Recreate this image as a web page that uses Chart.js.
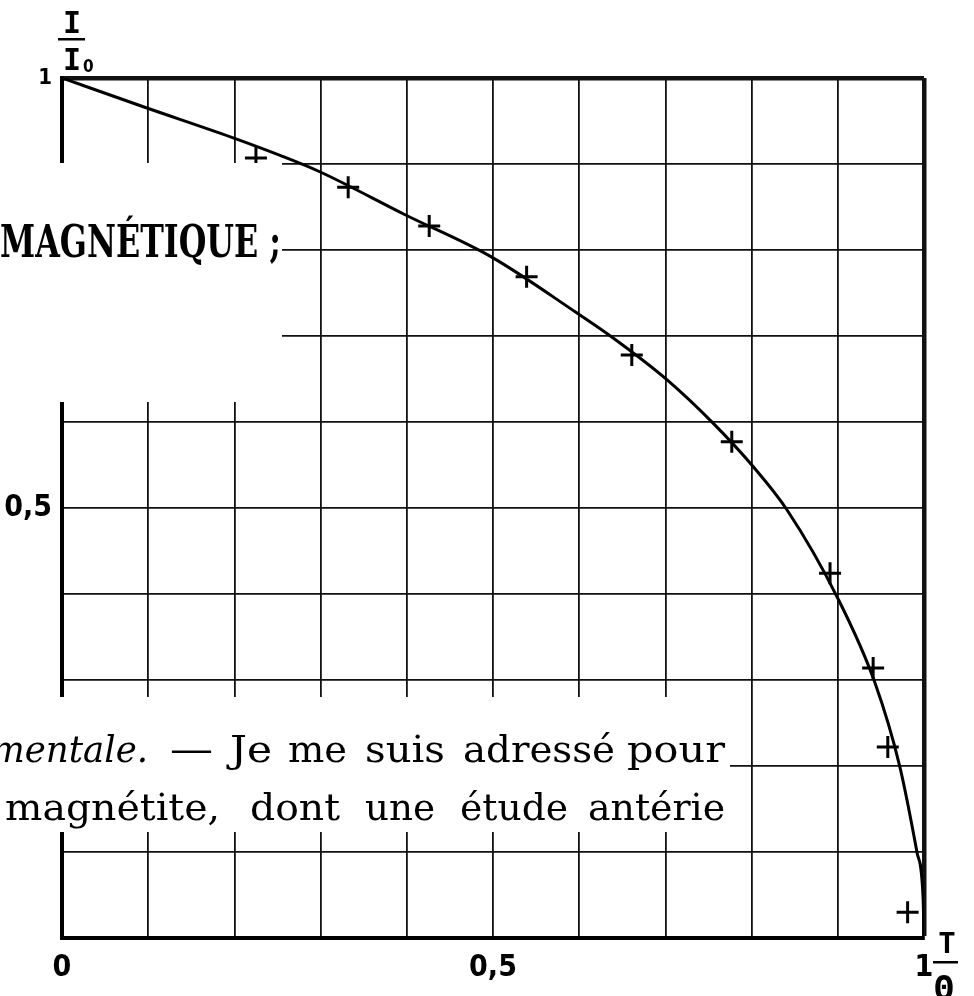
<!DOCTYPE html>
<html lang="fr">
<head>
<meta charset="utf-8">
<title>I/I0 en fonction de T/Θ</title>
<script src="https://cdn.jsdelivr.net/npm/chart.js@4.4.1/dist/chart.umd.min.js"></script>
<style>
  html, body { margin: 0; padding: 0; background: #fff; }
  canvas { display: block; }
</style>
</head>
<body>
<canvas id="courbe" width="974" height="996"></canvas>
<script>
// courbe théorique I/I0 = f(T/Θ)
const curveT = [0, 0.096, 0.197, 0.253, 0.299, 0.398, 0.498, 0.597, 0.639, 0.702, 0.755, 0.802, 0.841, 0.900, 0.943, 0.972, 0.992, 0.999, 1];
const curveI = [1, 0.966, 0.931, 0.910, 0.891, 0.841, 0.792, 0.727, 0.698, 0.649, 0.599, 0.548, 0.498, 0.395, 0.297, 0.199, 0.099, 0.045, 0];

// points mesurés (croix)
const measT = [0.225, 0.332, 0.426, 0.539, 0.661, 0.777, 0.891, 0.941, 0.958, 0.981];
const measI = [0.907, 0.873, 0.828, 0.769, 0.678, 0.577, 0.424, 0.314, 0.222, 0.030];

// graduations
const tickValues = [0, 0.5, 1];
const xTickLabels = ['0', '0,5', '1'];
const yTickLabels = ['', '0,5', '1'];

const narrow = "'Liberation Sans Narrow', 'DejaVu Sans Condensed', sans-serif";

// '' garde la ligne de grille sans étiquette
function labelFor(labels) {
  return (v) => {
    const i = tickValues.findIndex(t => Math.abs(t - v) < 1e-6);
    return i < 0 ? '' : labels[i];
  };
}

function gridWidth(ctx) {
  const v = ctx.tick ? ctx.tick.value : 0;
  return Math.abs(v - 1) < 1e-6 ? 4.5 : 1.8;
}

// texte ajusté horizontalement à une largeur donnée
function fitText(ctx, text, x, y, w, font) {
  ctx.font = font;
  const m = ctx.measureText(text).width;
  ctx.save();
  ctx.translate(x, y);
  ctx.scale(w / m, 1);
  ctx.fillText(text, 0, 0);
  ctx.restore();
}

// bandes de texte de la page et fractions des axes
const pageText = {
  id: 'pageText',
  afterDatasetsDraw(chart) {
    const ctx = chart.ctx;
    ctx.save();
    ctx.fillStyle = '#fff';
    ctx.fillRect(0, 163, 282, 239);
    ctx.fillRect(0, 697, 730, 135);

    ctx.fillStyle = '#000';
    ctx.textAlign = 'left';
    ctx.textBaseline = 'alphabetic';
    fitText(ctx, 'MAGNÉTIQUE ;', 0, 257, 281, 'bold 44px "DejaVu Serif"');

    const serif = '38px "DejaVu Serif"';
    const line1 = [['mentale.', -9, 148, 'italic ' + serif], ['—', 170, 213], ['Je', 230, 272], ['me', 288, 347],
                   ['suis', 365, 445], ['adressé', 463, 615], ['pour', 627, 725]];
    const line2 = [['magnétite,', 5, 220], ['dont', 250, 340], ['une', 365, 435], ['étude', 460, 568], ['antérie', 588, 725]];
    line1.forEach(([t, a, b, f]) => fitText(ctx, t, a, 762, b - a, f || serif));
    line2.forEach(([t, a, b, f]) => fitText(ctx, t, a, 820, b - a, f || serif));

    // I / I0
    ctx.textAlign = 'center';
    ctx.font = 'bold 30px "DejaVu Sans Mono"';
    ctx.fillText('I', 72, 33);
    ctx.fillText('I', 72, 70);
    ctx.font = 'bold 17px ' + narrow;
    ctx.textAlign = 'left';
    ctx.fillText('0', 83, 72);
    ctx.fillRect(58, 38, 27, 2.5);

    // T / Θ
    ctx.textAlign = 'center';
    ctx.font = 'bold 29px "DejaVu Sans Mono"';
    ctx.fillText('T', 947, 953);
    ctx.fillRect(933, 961, 25, 2.5);
    ctx.font = 'bold 34px "DejaVu Sans Mono"';
    ctx.fillText('Θ', 944, 1000);
    ctx.restore();
  }
};

new Chart(document.getElementById('courbe'), {
  type: 'scatter',
  data: {
    datasets: [
      {
        data: curveT.map((t, i) => ({ x: t, y: curveI[i] })),
        showLine: true,
        cubicInterpolationMode: 'monotone',
        borderColor: '#000',
        borderWidth: 3,
        pointRadius: 0,
      },
      {
        data: measT.map((t, i) => ({ x: t, y: measI[i] })),
        pointStyle: 'cross',
        pointRadius: 11,
        pointBorderWidth: 3,
        borderColor: '#000',
        backgroundColor: '#000',
      },
    ],
  },
  options: {
    responsive: false,
    animation: false,
    layout: { padding: { top: 78, right: 50, left: 0, bottom: 0 } },
    plugins: { legend: { display: false }, tooltip: { enabled: false } },
    scales: {
      x: {
        type: 'linear',
        min: 0,
        max: 1,
        afterFit: (s) => { s.height = 58; },
        ticks: {
          stepSize: 0.1,
          autoSkip: false,
          maxRotation: 0,
          padding: 12,
          color: '#000',
          font: { family: narrow, weight: 'bold', size: 30 },
          callback: labelFor(xTickLabels),
        },
        grid: { color: '#111', lineWidth: gridWidth, drawTicks: false },
        border: { display: true, color: '#000', width: 4 },
      },
      y: {
        type: 'linear',
        min: 0,
        max: 1,
        afterFit: (s) => { s.width = 62; },
        ticks: {
          stepSize: 0.1,
          autoSkip: false,
          padding: 10,
          color: '#000',
          font: (c) => ({ family: narrow, weight: 'bold', size: c.tick && Math.abs(c.tick.value - 1) < 1e-6 ? 22 : 30 }),
          callback: labelFor(yTickLabels),
        },
        grid: { color: '#111', lineWidth: gridWidth, drawTicks: false },
        border: { display: true, color: '#000', width: 4 },
      },
    },
  },
  plugins: [pageText],
});
</script>
</body>
</html>
